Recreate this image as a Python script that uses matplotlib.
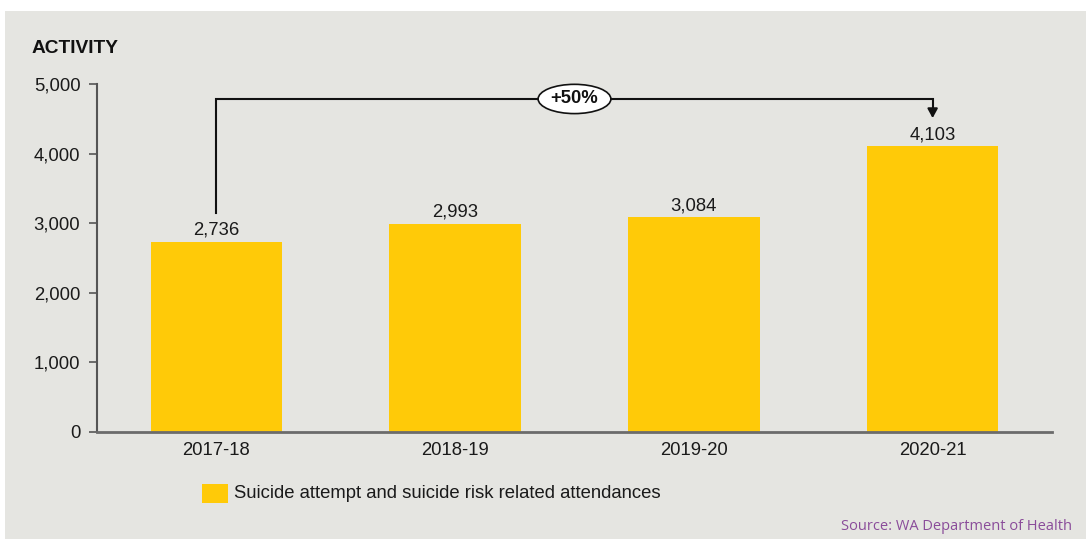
import matplotlib
matplotlib.use("Agg")
import matplotlib.pyplot as plt
from matplotlib.patches import Rectangle

categories = ["2017-18", "2018-19", "2019-20", "2020-21"]
values = [2736, 2993, 3084, 4103]
value_labels = ["2,736", "2,993", "3,084", "4,103"]
yticks = [0, 1000, 2000, 3000, 4000, 5000]
ytick_labels = ["0", "1,000", "2,000", "3,000", "4,000", "5,000"]
series_name = "Suicide attempt and suicide risk related attendances"
change_label = "+50%"

BAR = "#FFCA08"
BG = "#E5E5E1"
FS = 13.3

plt.rcParams['font.family'] = ['Liberation Sans', 'DejaVu Sans']

fig = plt.figure(figsize=(10.86, 5.39), dpi=100)
fig.patch.set_facecolor("white")
fig.patches.append(Rectangle((5/1086, 0), 1 - 5/1086, 1 - 11/539,
                             transform=fig.transFigure, facecolor=BG,
                             edgecolor="none", zorder=-10))

ax = fig.add_axes([97/1086, 1 - 432/539, (1052 - 97)/1086, (432 - 84)/539])
ax.set_zorder(1)
ax.set_facecolor("none")
x = list(range(len(categories)))
ax.bar(x, values, width=0.55, color=BAR, zorder=2)
ax.set_xlim(-0.5, 3.5)
ax.set_ylim(0, 5000)
ax.set_yticks(yticks)
ax.set_yticklabels(ytick_labels, fontsize=FS, color="#1a1a1a")
ax.set_xticks(x)
ax.set_xticklabels(categories, fontsize=FS, color="#1a1a1a")
ax.tick_params(axis="x", length=0, pad=7)
ax.tick_params(axis="y", length=6, width=1.2, color="#555555", pad=6)
for s in ["top", "right"]:
    ax.spines[s].set_visible(False)
ax.spines["left"].set_color("#555555")
ax.spines["left"].set_linewidth(1.5)
ax.spines["bottom"].set_color("#6b6b6b")
ax.spines["bottom"].set_linewidth(2)

for xi, v, lab in zip(x, values, value_labels):
    ax.annotate(lab, (xi, v), xytext=(0, 2), textcoords="offset points",
                ha="center", va="bottom", fontsize=FS, color="#1a1a1a")

# bracket showing change
y_top = 4785
ax.plot([0, 0, 3, 3], [values[0] + 410, y_top, y_top, 4600], color="#111111",
        lw=1.5, zorder=3, solid_joinstyle="miter", clip_on=False)
ax.annotate("", xy=(3, 4470), xytext=(3, 4640),
            arrowprops=dict(arrowstyle="-|>,head_width=0.3,head_length=0.55",
                            color="#111111", lw=1.5), zorder=3)
ax.text(1.5, y_top, change_label, ha="center", va="center", fontsize=FS,
        fontweight="bold", color="#111111", zorder=4,
        bbox=dict(boxstyle="ellipse,pad=0.1", facecolor="white",
                  edgecolor="#111111", lw=1.2))

fig.text(32/1086, 1 - 48.5/539, "ACTIVITY", fontsize=13.8, fontweight="bold",
         ha="left", va="center", color="#111111")

# legend
fig.patches.append(Rectangle((202/1086, 1 - 503/539), 26/1086, 19/539,
                             transform=fig.transFigure, facecolor=BAR,
                             edgecolor="none", zorder=2))
fig.text(234/1086, 1 - 494/539, series_name, fontsize=FS, ha="left",
         va="center", color="#1a1a1a")

fig.text(1072/1086, 1 - 527/539, "Source: WA Department of Health",
         fontsize=10.5, ha="right", va="center", color="#8A4C9A",
         family=["Open Sans", "DejaVu Sans"])

fig.savefig("out.png", dpi=100, facecolor=fig.get_facecolor())
